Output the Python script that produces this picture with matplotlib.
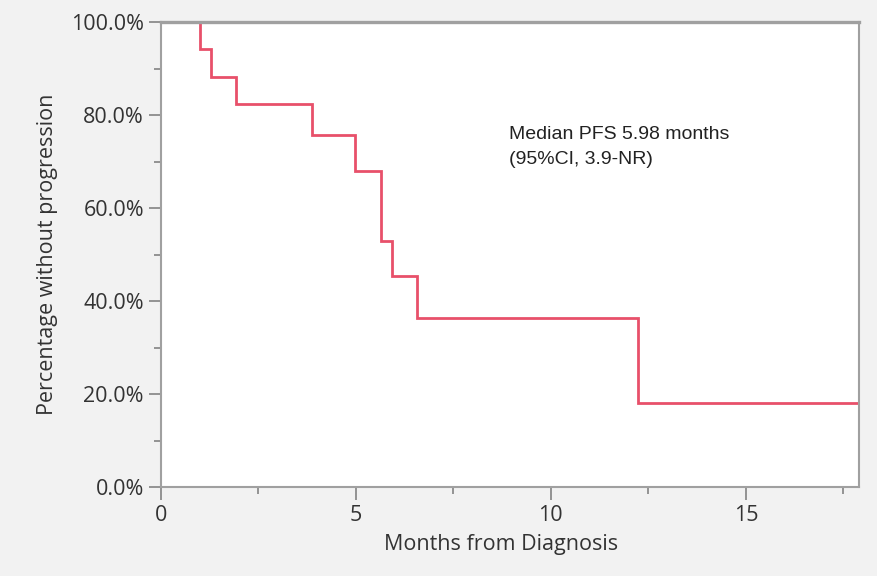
import matplotlib
matplotlib.use("Agg")
import matplotlib.pyplot as plt
from matplotlib.ticker import MultipleLocator, FuncFormatter

# Data
times = [0, 1.02, 1.30, 1.94, 3.87, 4.99, 5.65, 5.92, 6.56, 12.24, 17.9]
surv = [100, 94.1, 88.2, 82.4, 75.7, 68.0, 53.0, 45.4, 36.3, 18.1, 18.1]
y_ticks = [0, 20, 40, 60, 80, 100]
x_ticks = [0, 5, 10, 15]
annot_line1 = "Median PFS 5.98 months"
annot_line2 = "(95%CI, 3.9-NR)"
xlabel = "Months from Diagnosis"
ylabel = "Percentage without progression"

fig = plt.figure(figsize=(8.77, 5.76), dpi=100, facecolor="#f2f2f2")
ax = fig.add_axes([0.1832, 0.1545, 0.9795 - 0.1832, 0.9618 - 0.1545])
ax.set_facecolor("white")

ax.step(times, surv, where="post", color="#e8506a", linewidth=2.0,
        solid_joinstyle="miter", zorder=2)

ax.set_xlim(0, 17.9)
ax.set_ylim(0, 100)
ax.set_xticks(x_ticks)
ax.set_yticks(y_ticks)
ax.xaxis.set_minor_locator(MultipleLocator(2.5))
ax.yaxis.set_minor_locator(MultipleLocator(10))
ax.yaxis.set_major_formatter(FuncFormatter(lambda v, p: f"{v:.1f}%"))

tick_font = "Open Sans"
ax.tick_params(axis="both", which="major", length=9, width=1.3, color="#8c8c8c",
               labelsize=15.5, labelcolor="#333333")
ax.tick_params(axis="both", which="minor", length=5, width=1.3, color="#8c8c8c")
ax.tick_params(axis="y", which="major", pad=3)
ax.tick_params(axis="x", which="major", pad=4)
for lab in ax.get_xticklabels() + ax.get_yticklabels():
    lab.set_fontfamily(tick_font)

for s in ax.spines.values():
    s.set_color("#a0a0a0")
    s.set_linewidth(1.5)
    s.set_zorder(3)
ax.spines["top"].set_linewidth(2.4)

ax.set_xlabel(xlabel, fontsize=15.5, family=tick_font, color="#333333", labelpad=6)
ax.xaxis.label.set_x(0.487)
ax.set_ylabel(ylabel, fontsize=15.5, family=tick_font, color="#333333", labelpad=9)

ax.text(8.93, 74.8, annot_line1, fontsize=14, family="Liberation Sans",
        color="#222222", va="baseline", ha="left")
ax.text(8.93, 69.4, annot_line2, fontsize=14, family="Liberation Sans",
        color="#222222", va="baseline", ha="left")

fig.savefig("out.png", dpi=100, facecolor=fig.get_facecolor())
